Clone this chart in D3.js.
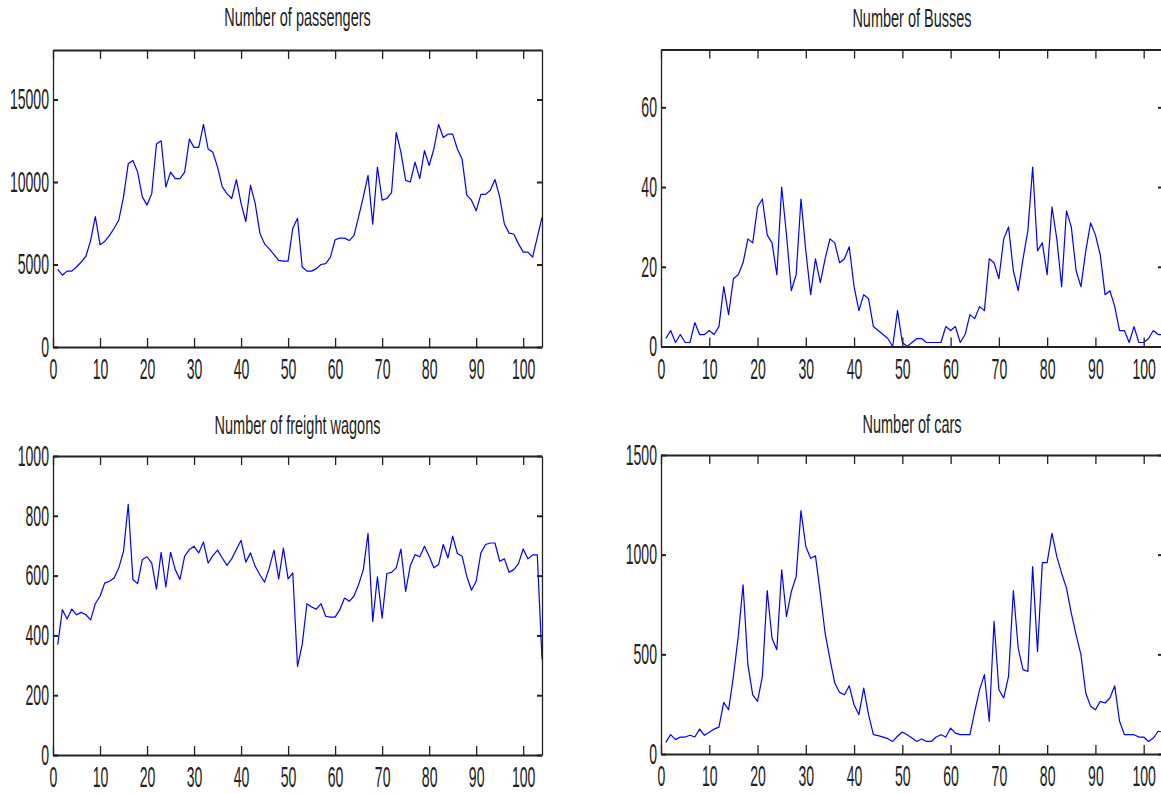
<!DOCTYPE html>
<html>
  <head>
    <meta charset="utf-8">
    <title>Weekly traffic counts</title>
    <script src="https://d3js.org/d3.v7.min.js"></script>
    <style>
      body {
        margin: 0;
        background-color: white;
      }

      svg {
        display: block;
      }

      .axis path,
      .axis line {
        stroke: #222;
      }

      .axis text {
        font-family: "Liberation Sans", Arial, sans-serif;
        font-size: 29px;
        fill: #222;
      }

      .title {
        font-family: "Liberation Sans", Arial, sans-serif;
        font-size: 25px;
        fill: #222;
      }
    </style>
  </head>
  <body>
    <script>
      const passengers = [
        4700, 4350, 4600, 4600, 4850, 5150, 5500, 6450, 7900, 6200,
        6400, 6750, 7200, 7700, 9100, 11100, 11300, 10600, 9100, 8600,
        9300, 12300, 12500, 9700, 10600, 10200, 10200, 10600, 12600, 12100,
        12100, 13500, 12000, 11800, 10900, 9700, 9300, 9000, 10150, 8700,
        7600, 9800, 8700, 6900, 6250, 5950, 5600, 5250, 5200, 5200,
        7200, 7800, 4850, 4600, 4600, 4750, 5000, 5050, 5450, 6500,
        6600, 6600, 6450, 6750, 7900, 9100, 10400, 7450, 10900, 8900,
        9000, 9350, 13000, 11800, 10100, 10000, 11200, 10200, 11900, 11000,
        12000, 13500, 12700, 12900, 12900, 12000, 11400, 9200, 8900, 8250,
        9250, 9250, 9500, 10150, 9100, 7450, 6900, 6850, 6250, 5750,
        5750, 5450, 6650, 7850
      ];

      const busses = [
        2, 4, 1, 3, 1, 1, 6, 3, 3, 4,
        3, 5, 15, 8, 17, 18, 21, 27, 26, 35,
        37, 28, 26, 18, 40, 28, 14, 18, 37, 24,
        13, 22, 16, 22, 27, 26, 21, 22, 25, 15,
        9, 13, 12, 5, 4, 3, 2, 0, 9, 1,
        0, 1, 2, 2, 1, 1, 1, 1, 5, 4,
        5, 1, 3, 8, 7, 10, 9, 22, 21, 17,
        27, 30, 19, 14, 22, 29, 45, 24, 26, 18,
        35, 27, 15, 34, 30, 19, 15, 24, 31, 28,
        23, 13, 14, 10, 4, 4, 1, 5, 1, 1,
        2, 4, 3, 3
      ];

      const wagons = [
        369, 486, 455, 488, 469, 477, 469, 452, 506, 531,
        575, 581, 592, 626, 682, 838, 587, 573, 654, 663,
        642, 555, 678, 562, 678, 620, 587, 665, 687, 698,
        676, 712, 642, 667, 685, 659, 634, 656, 687, 718,
        645, 676, 631, 603, 578, 626, 685, 589, 692, 589,
        609, 296, 369, 506, 495, 488, 506, 464, 461, 461,
        486, 525, 514, 531, 570, 620, 741, 447, 596, 458,
        607, 611, 626, 689, 547, 634, 670, 663, 698, 665,
        626, 637, 704, 659, 732, 674, 665, 598, 551, 581,
        676, 704, 709, 709, 648, 656, 611, 620, 640, 689,
        656, 669, 669, 320
      ];

      const cars = [
        58, 97, 72, 85, 85, 94, 85, 125, 94, 109,
        125, 135, 259, 222, 389, 590, 849, 448, 297, 264,
        389, 820, 581, 523, 924, 690, 815, 890, 1221, 1041,
        982, 994, 807, 606, 476, 356, 309, 297, 342, 247,
        197, 331, 197, 97, 92, 85, 77, 63, 89, 110,
        97, 80, 63, 75, 63, 63, 85, 97, 85, 130,
        105, 97, 97, 97, 214, 322, 398, 164, 665, 322,
        281, 389, 820, 531, 423, 414, 940, 514, 960, 960,
        1107, 990, 907, 832, 707, 598, 498, 306, 239, 222,
        264, 256, 281, 342, 164, 97, 97, 97, 85, 85,
        63, 80, 114, 110
      ];

      // week number of each value
      const weeks = passengers.map((d, i) => i + 1);

      const xTicks = [0, 10, 20, 30, 40, 50, 60, 70, 80, 90, 100];
      const passengerTicks = [0, 5000, 10000, 15000];
      const busTicks = [0, 20, 40, 60];
      const wagonTicks = [0, 200, 400, 600, 800, 1000];
      const carTicks = [0, 500, 1000, 1500];

      const titles = ['Number of passengers', 'Number of Busses', 'Number of freight wagons', 'Number of cars'];
      const series = [passengers, busses, wagons, cars];
      const yTicks = [passengerTicks, busTicks, wagonTicks, carTicks];
      const yMax = [18000, 74.5, 1000, 1500];
      const xMax = 104;

      // axes boxes, in pixels
      const boxes = [
        {left: 53, right: 542, top: 50, bottom: 347, titleY: 26},
        {left: 661, right: 1163, top: 49.5, bottom: 346.5, titleY: 27},
        {left: 53, right: 542, top: 456, bottom: 755, titleY: 434},
        {left: 661, right: 1163, top: 455, bottom: 754, titleY: 433}
      ];

      // the text of the original is squeezed sideways
      const tickSquash = 0.485;
      const titleSquash = 0.58;
      const plain = d3.format('d');

      const svg = d3.select('body')
                    .append('svg')
                    .attr('width', 1161)
                    .attr('height', 794);

      series.forEach((values, k) => {
        const b = boxes[k];
        const x = d3.scaleLinear().domain([0, xMax]).range([b.left, b.right]);
        const y = d3.scaleLinear().domain([0, yMax[k]]).range([b.bottom, b.top]);
        const g = svg.append('g');

        g.append('path')
         .datum(values)
         .attr('fill', 'none')
         .attr('stroke', '#0000ff')
         .attr('stroke-width', 1.2)
         .attr('stroke-linejoin', 'round')
         .attr('d', d3.line().x((d, i) => x(weeks[i])).y(d => y(d)));

        const bottomAxis = g.append('g')
                            .attr('class', 'axis')
                            .attr('transform', `translate(0,${b.bottom})`)
                            .call(d3.axisBottom(x).tickValues(xTicks).tickFormat(plain)
                                    .tickSizeInner(-9).tickSizeOuter(0).tickPadding(11.5));
        bottomAxis.selectAll('text').attr('transform', `scale(${tickSquash},1)`);

        const topAxis = g.append('g')
                         .attr('class', 'axis')
                         .attr('transform', `translate(0,${b.top})`)
                         .call(d3.axisTop(x).tickValues(xTicks).tickSizeInner(-9).tickSizeOuter(0).tickFormat(() => ''));

        const leftAxis = g.append('g')
                          .attr('class', 'axis')
                          .attr('transform', `translate(${b.left},0)`)
                          .call(d3.axisLeft(y).tickValues(yTicks[k]).tickFormat(plain)
                                  .tickSizeInner(-5).tickSizeOuter(0).tickPadding(8.25));
        leftAxis.selectAll('text').attr('transform', `scale(${tickSquash},1)`);

        const rightAxis = g.append('g')
                           .attr('class', 'axis')
                           .attr('transform', `translate(${b.right},0)`)
                           .call(d3.axisRight(y).tickValues(yTicks[k]).tickSizeInner(-5).tickSizeOuter(0).tickFormat(() => ''));

        // horizontal strokes are heavier than vertical ones in the original
        [bottomAxis, topAxis].forEach(a => {
          a.select('.domain').attr('stroke-width', 2);
          a.selectAll('.tick line').attr('stroke-width', 1.3);
        });
        [leftAxis, rightAxis].forEach(a => {
          a.select('.domain').attr('stroke-width', 1.3);
          a.selectAll('.tick line').attr('stroke-width', 2);
        });

        g.append('text')
         .attr('class', 'title')
         .attr('text-anchor', 'middle')
         .attr('transform', `translate(${(b.left + b.right) / 2},${b.titleY}) scale(${titleSquash},1)`)
         .text(titles[k]);
      });
    </script>
  </body>
</html>
